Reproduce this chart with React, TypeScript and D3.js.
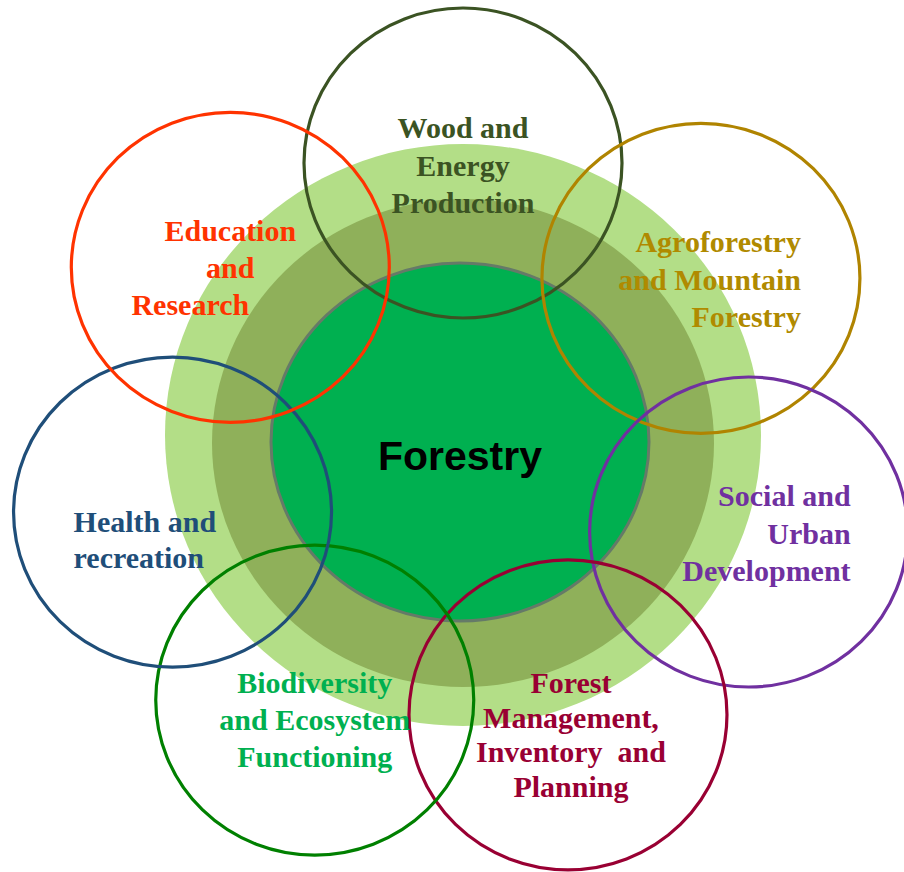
import React from 'react';
import * as d3 from 'd3';

// Topics around the central "Forestry" disc
const topicNames = [
  'Wood and Energy Production',
  'Agroforestry and Mountain Forestry',
  'Social and Urban Development',
  'Forest Management, Inventory and Planning',
  'Biodiversity and Ecosystem Functioning',
  'Health and recreation',
  'Education and Research',
];

// label lines as they wrap in the picture
const topicLines = [
  ['Wood and', 'Energy', 'Production'],
  ['Agroforestry', 'and Mountain', 'Forestry'],
  ['Social and', 'Urban', 'Development'],
  ['Forest', 'Management,', 'Inventory\u00a0 and', 'Planning'],
  ['Biodiversity', 'and Ecosystem', 'Functioning'],
  ['Health and', 'recreation'],
  ['Education', 'and', 'Research'],
];

const ringColor = ['#3b5323', '#b08400', '#7030a0', '#990033', '#008000', '#1f4e79', '#ff3300'];
const textColor = ['#3b5323', '#b08a00', '#7030a0', '#990033', '#00b050', '#1f4e79', '#ff3300'];

const centerLabel = 'Forestry';

// layout helpers (angle clockwise from top, in degrees; distance from centre)
const ringAngle = [0, 56.3, 108.4, 159.3, 209.4, 255.5, 306.1];
const ringDist = [274, 286, 301, 297, 302, 300, 288];

const W = 904;
const H = 872;
const cx = 463;
const cy = 437;

type Align = 'start' | 'middle' | 'end';
const labelAlign: Align[] = ['middle', 'end', 'end', 'middle', 'middle', 'start', 'middle'];
const labelDx = [[0], [100], [102], [3], [0], [-99], [0, 0, -40]];
const labelDy = [-25, -26, -26, -22, -7, 20, -26];
const lineStep = [37.5, 37.5, 37.5, 34.8, 37, 36, 37];

export default function App() {
  const serif = '"Liberation Serif", "Times New Roman", serif';
  const discs = [
    { rx: 298, ry: 291, dy: -2, fill: '#b3de87', stroke: 'none', sw: 0 },
    { rx: 251, ry: 244, dy: 6, fill: '#8fb05a', stroke: 'none', sw: 0 },
    { rx: 189, ry: 179, dy: 5, fill: '#00b050', stroke: '#657a68', sw: 3 },
  ];

  const rings = topicNames.map((name, i) => {
    const [x, y] = d3.pointRadial((ringAngle[i] * Math.PI) / 180, ringDist[i]);
    return { name, i, x: cx + x, y: cy + y };
  });

  return (
    <svg
      width={W}
      height={H}
      style={{ position: 'absolute', left: 0, top: 0, background: '#fff' }}
    >
      {discs.map((d, k) => (
        <ellipse
          key={k}
          cx={cx - (k === 2 ? 3 : 0)}
          cy={cy + d.dy}
          rx={d.rx}
          ry={d.ry}
          fill={d.fill}
          stroke={d.stroke}
          strokeWidth={d.sw}
        />
      ))}
      <text
        x={cx - 3}
        y={470}
        textAnchor="middle"
        fontFamily='"Liberation Sans", Arial, sans-serif'
        fontWeight="bold"
        fontSize={41}
        fill="#000"
      >
        {centerLabel}
      </text>

      {rings.map((r) => (
        <ellipse
          key={r.name}
          cx={r.x}
          cy={r.y}
          rx={159}
          ry={155}
          fill="none"
          stroke={ringColor[r.i]}
          strokeWidth={3.2}
        />
      ))}

      {rings.map((r) => (
        <text
          key={r.name + '-label'}
          fontFamily={serif}
          fontWeight="bold"
          fontSize={30}
          fill={textColor[r.i]}
          textAnchor={labelAlign[r.i]}
          style={{ whiteSpace: 'pre' }}
        >
          {topicLines[r.i].map((line, j) => {
            const dxs = labelDx[r.i];
            const dx = dxs[Math.min(j, dxs.length - 1)];
            return (
              <tspan key={j} x={r.x + dx} y={r.y + labelDy[r.i] + j * lineStep[r.i]}>
                {line}
              </tspan>
            );
          })}
        </text>
      ))}
    </svg>
  );
}
